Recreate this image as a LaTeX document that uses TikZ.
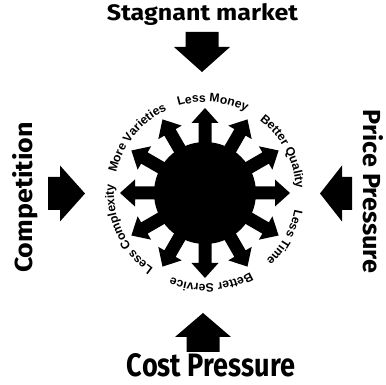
\documentclass[tikz,border=0pt]{standalone}
\usepackage{fontspec}
\usepackage{graphicx}
\usetikzlibrary{decorations.text}
\newfontfamily\arcfam{Liberation Sans}
\newfontfamily\bigfam{Fira Sans}
\newcommand\arcfont{\arcfam\bfseries\fontsize{12.2}{13}\selectfont}
\newcommand\blockarrow[5]{%
  \fill[shift={(#1,#2)},rotate=#3] (0,-16.5) -- (#4,-16.5) -- (#4,-28) -- ({#4+#5},0) -- (#4,28) -- (#4,16.5) -- (0,16.5) -- cycle;}
\tikzset{
  arclabel/.style={decorate, decoration={text along path, text align=center, text={|\arcfont|#1}}},
  biglabel/.style={inner sep=0pt, anchor=base, font=\bigfam\bfseries}
}
\begin{document}
\begin{tikzpicture}[x=1pt,y=1pt]
\useasboundingbox[fill=white] (0,0) rectangle (386,385);
\coordinate (C) at (205,192);
% central star
\fill (C) circle[radius=51];
\begin{scope}[shift={(C)}]
  \foreach \a in {0,30,...,330}
    \fill[rotate=\a] (0,-6.5) -- (70,-6.5) -- (70,-13.5) -- (85,0) -- (70,13.5) -- (70,6.5) -- (0,6.5) -- cycle;
\end{scope}
% curved labels
\path[arclabel={Less Money}] ([shift={(C)}]125:91) arc[start angle=125,end angle=45,radius=91];
\path[arclabel={Better Quality}] ([shift={(C)}]68:91) arc[start angle=68,end angle=-12,radius=91];
\path[arclabel={Less Time}] ([shift={(C)}]11:91) arc[start angle=11,end angle=-69,radius=91];
\path[arclabel={Better Service}] ([shift={(C)}]-46:91) arc[start angle=-46,end angle=-126,radius=91];
\path[arclabel={Less Complexity}] ([shift={(C)}]245:91) arc[start angle=245,end angle=165,radius=91];
\path[arclabel={More Varieties}] ([shift={(C)}]181:91) arc[start angle=181,end angle=101,radius=91];
% outer block arrows
\blockarrow{202}{353}{-90}{15}{25}
\blockarrow{48}{191.5}{0}{12}{25}
\blockarrow{352}{191.5}{180}{10}{22}
\blockarrow{203}{33}{90}{15}{24}
% outer labels
\node[biglabel] (stag) at (202.5,364) {\resizebox{191pt}{17pt}{Stagnant market}};
\node[biglabel] (cost) at (211,8) {\resizebox{168pt}{23pt}{Cost Pressure}};
\node[biglabel, rotate=90] (comp) at (32,187.5) {\resizebox{151pt}{20pt}{Competition}};
\node[biglabel, rotate=-90] (price) at (363,193.5) {\resizebox{163pt}{20pt}{Price Pressure}};
\end{tikzpicture}
\end{document}
